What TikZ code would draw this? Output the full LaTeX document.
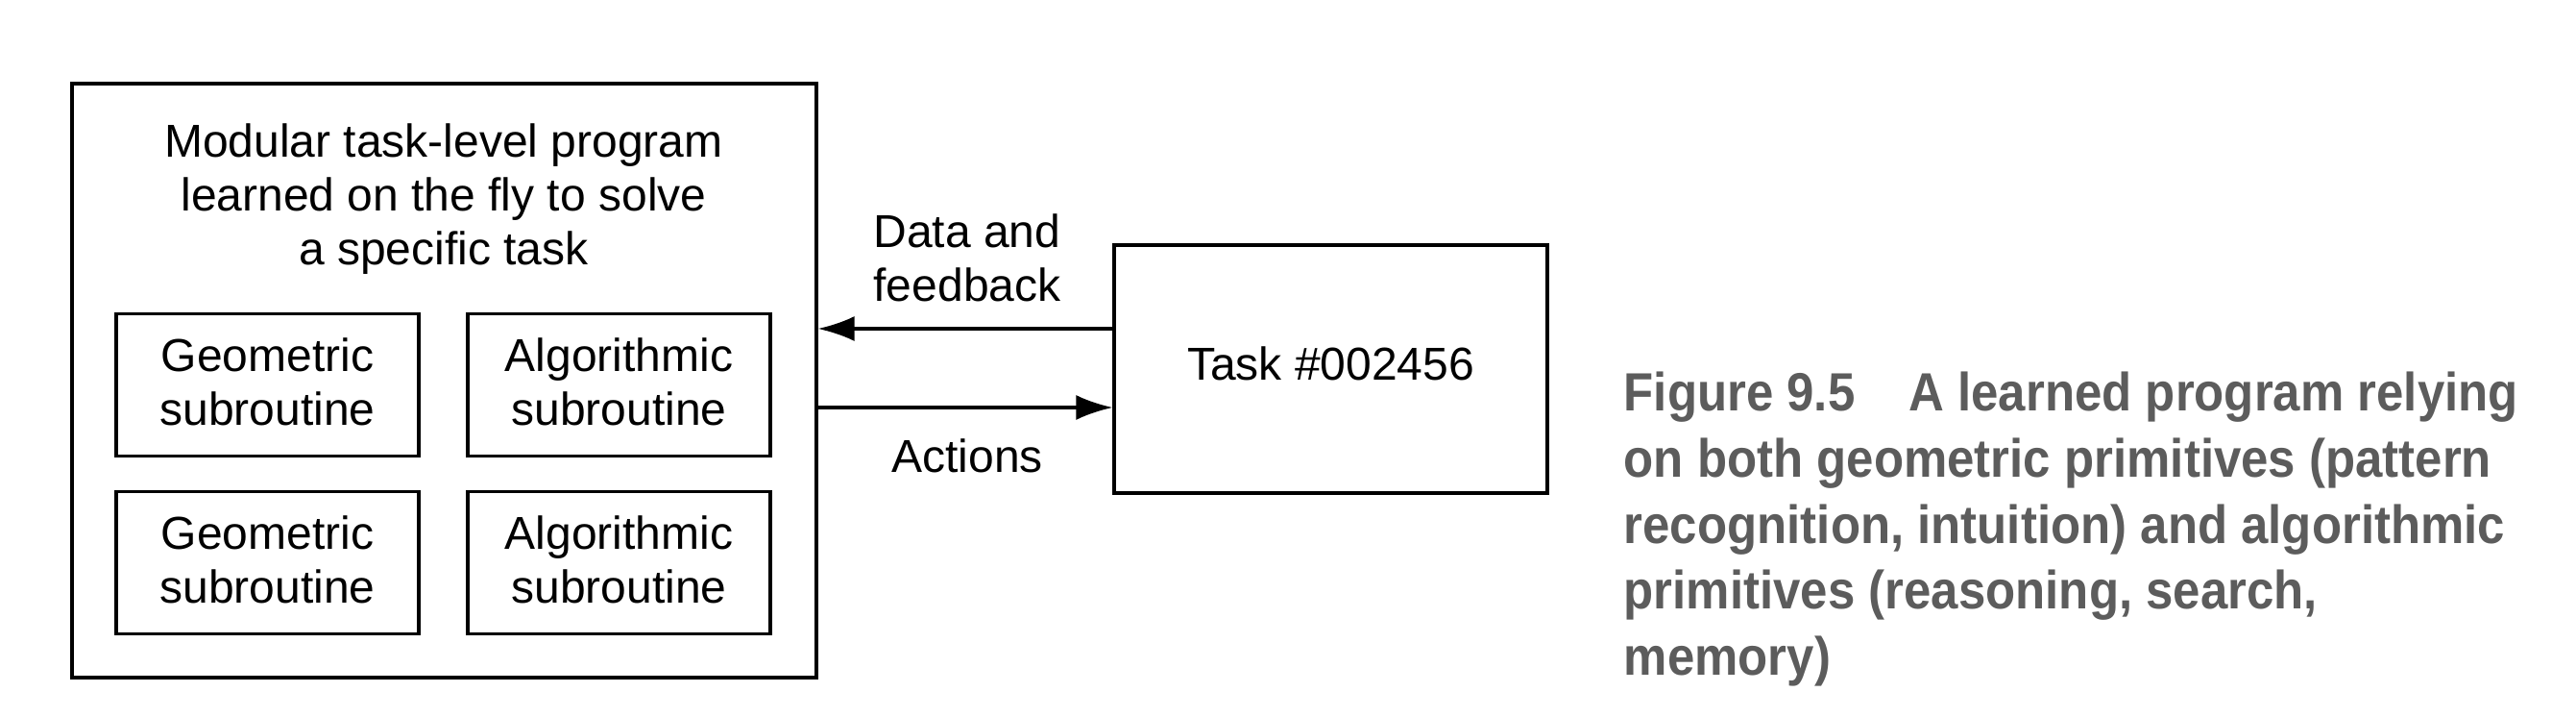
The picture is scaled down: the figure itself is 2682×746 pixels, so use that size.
\documentclass[tikz,border=0pt]{standalone}
\usepackage{fontspec}
\setmainfont{Liberation Sans}
\newfontfamily\capfont{Liberation Sans}[FakeStretch=0.91]
\usetikzlibrary{arrows.meta}
\definecolor{capgray}{RGB}{92,92,92}
\begin{document}
\begin{tikzpicture}[x=0.25pt,y=-0.25pt,
  box/.style={draw, line width=0.8pt, inner sep=0pt},
  sub/.style={box, minimum width=78.75pt, minimum height=37pt},
  lbl/.style={font=\fontsize{12}{14}\selectfont, align=center, inner sep=0pt},
  capline/.style={font=\capfont\bfseries\fontsize{14}{17}\selectfont, text=capgray, anchor=base west, inner sep=0pt},
  arr/.style={line width=0.8pt, -{Latex[length=9.5pt,width=6.5pt]}}]
\useasboundingbox (0,0) rectangle (2682,746);
% outer box
\node[box, minimum width=193.75pt, minimum height=154.5pt] (outer) at (462.5,396) {};
\node[lbl] (title) at (462,207) {Modular task-level program\\learned on the fly to solve\\a specific task};
% sub boxes
\node[sub] (g1) at (278.5,400.5) {};
\node[sub] (a1) at (644.5,400.5) {};
\node[sub] (g2) at (278.5,585.5) {};
\node[sub] (a2) at (644.5,585.5) {};
\node[lbl] (g1t) at ([yshift=0.8pt]g1.center) {Geometric\\subroutine};
\node[lbl] (a1t) at ([yshift=0.8pt]a1.center) {Algorithmic\\subroutine};
\node[lbl] (g2t) at ([yshift=0.8pt]g2.center) {Geometric\\subroutine};
\node[lbl] (a2t) at ([yshift=0.8pt]a2.center) {Algorithmic\\subroutine};
% task box
\node[box, minimum width=112.75pt, minimum height=64.5pt] (task) at (1385.5,384) {};
\node[lbl] (taskt) at (1385.5,378) {Task \#002456};
% arrows
\coordinate (yup) at (0,342);
\coordinate (ydn) at (0,424);
\draw[arr] (task.west |- yup) -- (outer.east |- yup);
\draw[arr] (outer.east |- ydn) -- (task.west |- ydn);
\node[lbl] (df) at (1007,268) {Data and\\feedback};
\node[lbl] (act) at (1007,474) {Actions};
% caption
\node[capline] (c1) at (1690,428) {Figure 9.5\hspace{14pt}A learned program relying};
\node[capline] (c2) at (1690,497) {on both geometric primitives (pattern};
\node[capline] (c3) at (1690,566) {recognition, intuition) and algorithmic};
\node[capline] (c4) at (1690,634) {primitives (reasoning, search,};
\node[capline] (c5) at (1690,703) {memory)};
\end{tikzpicture}
\end{document}
